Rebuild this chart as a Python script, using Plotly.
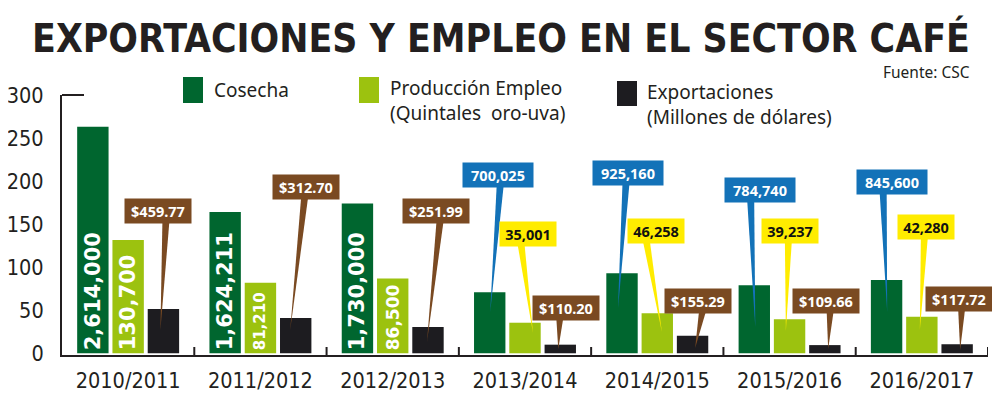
import plotly.graph_objects as go

# ---------------- data ----------------
categories = ["2010/2011", "2011/2012", "2012/2013", "2013/2014",
              "2014/2015", "2015/2016", "2016/2017"]
cosecha = [263, 164, 174, 71, 93, 79, 85]
produccion = [131.5, 82, 87, 35.5, 46.5, 39.5, 42.5]
exportaciones = [51.5, 41, 30.5, 10, 20.5, 9.5, 10.5]

cosecha_labels = ["2,614,000", "1,624,211", "1,730,000", "700,025",
                  "925,160", "784,740", "845,600"]
produccion_labels = ["130,700", "81,210", "86,500", "35,001",
                     "46,258", "39,237", "42,280"]
export_labels = ["$459.77", "$312.70", "$251.99", "$110.20",
                 "$155.29", "$109.66", "$117.72"]
y_ticks = [0, 50, 100, 150, 200, 250, 300]

# first three seasons carry the value inside the bar, the rest use callouts
inside_count = 3

# ---------------- style / layout ----------------
# the page body has an 8px default margin, so the figure is drawn 8px in
VW, VH = 1000, 395
OX, OY = 8, 8
W, H = VW - OX, VH - OY
PL, PR, PT, PB = 62, 988, 95, 355          # plot area in window pixels
Y_RANGE = [-2, 300]
X_RANGE = [-0.5, len(categories) - 0.5]
PX_X = (PR - PL) / (X_RANGE[1] - X_RANGE[0])
PX_Y = (PB - PT) / (Y_RANGE[1] - Y_RANGE[0])

C_DARK = "#00662f"
C_LIGHT = "#9cc20f"
C_BLACK = "#1d1c20"
C_BLUE = "#1372b8"
C_YELLOW = "#ffec00"
C_BROWN = "#7a4a22"
C_TEXT = "#231f20"

BODY = "Noto Sans, Open Sans, sans-serif"
NARROW = "DejaVu Sans Condensed, sans-serif"
TITLE_FONT = "DejaVu Sans Condensed, sans-serif"

BARGAP = 0.2
GROUPGAP = 0.11
OFFS = [-(1 - BARGAP) / 3, 0, (1 - BARGAP) / 3]

def px2paper_x(px):
    return (px - PL) / (PR - PL)

def px2paper_y(py):
    return (PB - py) / (PB - PT)

fig = go.Figure()

c_text = [t if i < inside_count else "" for i, t in enumerate(cosecha_labels)]
p_text = [t if i < inside_count else "" for i, t in enumerate(produccion_labels)]
c_sizes = [21] * len(categories)
p_sizes = [21, 15, 17] + [21] * (len(categories) - 3)

xs = list(range(len(categories)))
fig.add_trace(go.Bar(x=xs, y=cosecha, name="Cosecha", marker_color=C_DARK,
                     text=c_text, textposition="inside", insidetextanchor="start",
                     textangle=-90, constraintext="none",
                     textfont=dict(family="DejaVu Sans", size=c_sizes, color="white",
                                   weight="bold"),
                     hoverinfo="skip"))
fig.add_trace(go.Bar(x=xs, y=produccion, name="Producción", marker_color=C_LIGHT,
                     text=p_text, textposition="inside", insidetextanchor="start",
                     textangle=-90, constraintext="none",
                     textfont=dict(family="DejaVu Sans", size=p_sizes, color="white",
                                   weight="bold"),
                     hoverinfo="skip"))
fig.add_trace(go.Bar(x=xs, y=exportaciones, name="Exportaciones",
                     marker_color=C_BLACK, hoverinfo="skip"))

for tr in fig.data:
    tr.marker.line.width = 0

# ---------------- callouts ----------------
# per callout: (box dx px, box centre y in data units, tail base dx px, tip dx px, tip y data)
blue_geo = [None, None, None,
            (8, 207, 10.5, 0.5, 48), (5.7, 209.4, 4, -4, 52.6),
            (6, 189.7, -3.6, 1, 29.4), (5, 198.4, -3.4, 0.6, 48)]
yellow_geo = [None, None, None,
              (3, 138.6, -4, 8, 23.6), (-1.4, 142.6, -11, 4.6, 24.7),
              (0.3, 142.6, -1.2, -3.7, 25.9), (4, 146.7, 2.5, -2, 27)]
brown_geo = [(-5.6, 165.3, 2.5, -3, 27), (10.5, 193.7, 9, -5.5, 27),
             (8, 164.7, 12, -1, 13), (6, 52.6, -0.5, -2, 5),
             (5, 60.7, 10, 2.6, 6.2), (1.3, 60.7, 5.3, 3.3, 5),
             (2, 63.6, 4.5, 3, 3.8)]

BOX_H = 24
callout_sets = [
    (cosecha_labels, blue_geo, OFFS[0], C_BLUE, "white", 70),
    (produccion_labels, yellow_geo, OFFS[1], C_YELLOW, "#111111", 56),
    (export_labels, brown_geo, OFFS[2], C_BROWN, "white", 66),
]

shapes = []
annotations = []
for labels, geo, off, col, tcol, bw in callout_sets:
    for i, g in enumerate(geo):
        if g is None:
            continue
        bdx, by, tdx, tipdx, tipy = g
        xc = xs[i] + off
        bx = xc + bdx / PX_X
        bottom = by - (BOX_H / 2 - 2) / PX_Y
        basex = xc + tdx / PX_X
        hw = 3.5 / PX_X
        tipx = xc + tipdx / PX_X
        shapes.append(dict(type="path", xref="x", yref="y", layer="above",
                           path=f"M {basex - hw} {bottom} L {basex + hw} {bottom} L {tipx} {tipy} Z",
                           fillcolor=col, line=dict(width=0)))
        annotations.append(dict(x=bx, y=by, xref="x", yref="y", text=f"<b>{labels[i]}</b>",
                                showarrow=False, xanchor="center", yanchor="middle",
                                bgcolor=col, width=bw - 2, height=BOX_H - 2, borderpad=1,
                                font=dict(family=BODY, size=14.5, color=tcol)))

# ---------------- axis decorations ----------------
shapes.append(dict(type="line", xref="paper", yref="paper", x0=0, x1=px2paper_x(84),
                   y0=1, y1=1, line=dict(color=C_TEXT, width=2)))
for k in range(len(categories)):
    xb = xs[k] + 0.5
    shapes.append(dict(type="line", xref="x", yref="paper", x0=xb, x1=xb,
                       y0=0, y1=8 / (PB - PT), line=dict(color=C_TEXT, width=2)))

# ---------------- legend (drawn) ----------------
legend_items = [
    (C_DARK, 183, 203, 77, 103, 212, 90, "Cosecha"),
    (C_LIGHT, 359, 379, 77, 103, 388, 100, "Producción Empleo<br>(Quintales  oro-uva)"),
    (C_BLACK, 617, 637, 81, 106, 645, 104, "Exportaciones<br>(Millones de dólares)"),
]
for col, x0, x1, y0, y1, tx, ty, txt in legend_items:
    shapes.append(dict(type="rect", xref="paper", yref="paper",
                       x0=px2paper_x(x0), x1=px2paper_x(x1),
                       y0=px2paper_y(y1), y1=px2paper_y(y0),
                       fillcolor=col, line=dict(width=0)))
    annotations.append(dict(x=px2paper_x(tx), y=px2paper_y(ty), xref="paper", yref="paper",
                            text=txt, showarrow=False, xanchor="left", yanchor="middle",
                            align="left",
                            font=dict(family=BODY, size=19, color=C_TEXT)))

annotations.append(dict(x=px2paper_x(972), y=px2paper_y(72), xref="paper", yref="paper",
                        text="Fuente: CSC", showarrow=False, xanchor="right", yanchor="middle",
                        font=dict(family=BODY, size=15.5, color=C_TEXT)))

fig.update_layout(
    width=W, height=H,
    margin=dict(l=PL - OX, r=VW - PR, t=PT - OY, b=VH - PB, pad=0, autoexpand=False),
    paper_bgcolor="white", plot_bgcolor="white",
    barmode="group", bargap=BARGAP, bargroupgap=GROUPGAP,
    showlegend=False,
    title=dict(text="<b>EXPORTACIONES Y EMPLEO EN EL SECTOR CAFÉ</b>",
               x=(501 - OX) / W, y=1 - (38.5 - OY) / H, xanchor="center", yanchor="middle",
               font=dict(family=TITLE_FONT, size=38.8, color=C_TEXT)),
    shapes=shapes,
    annotations=annotations,
    xaxis=dict(range=X_RANGE, tickvals=xs, ticktext=categories, showgrid=False,
               zeroline=False, showline=True, linecolor=C_TEXT, linewidth=2,
               ticks="", ticklabelstandoff=5, automargin=False,
               tickfont=dict(family=NARROW, size=21.5, color=C_TEXT)),
    yaxis=dict(range=Y_RANGE, tickvals=y_ticks, showgrid=False, zeroline=False,
               showline=True, linecolor=C_TEXT, linewidth=2, ticks="",
               ticklabelstandoff=12, automargin=False,
               tickfont=dict(family=NARROW, size=21.5, color=C_TEXT)),
)

fig.write_html("out.html")
